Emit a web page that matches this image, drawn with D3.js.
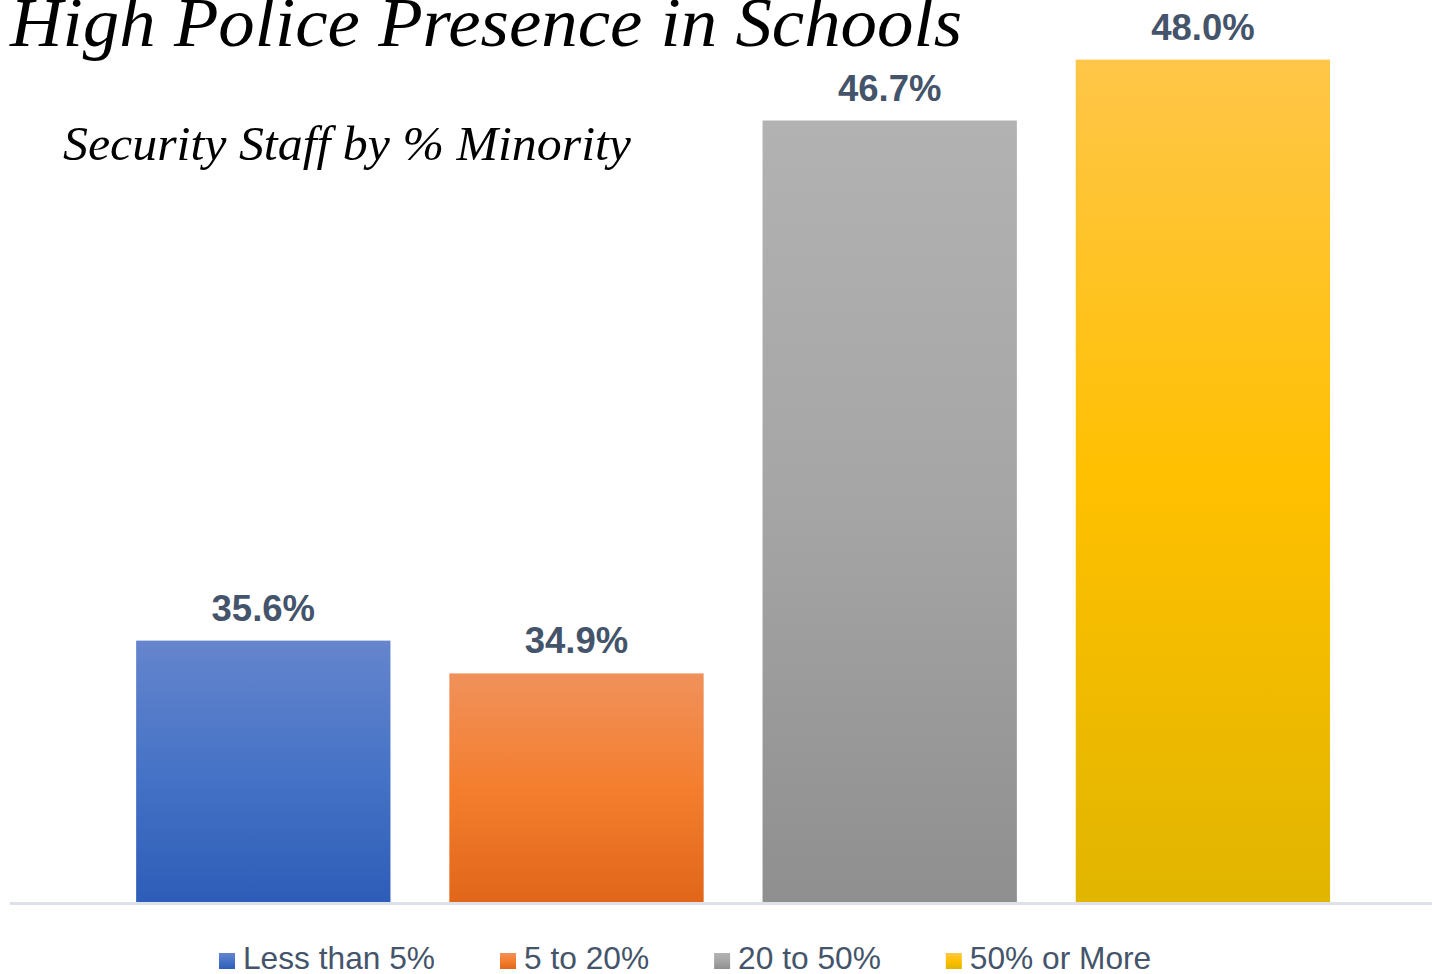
<!DOCTYPE html>
<html>
<head>
<meta charset="utf-8">
<script src="https://cdn.jsdelivr.net/npm/d3@7"></script>
<style>
  html, body { margin: 0; padding: 0; background: #ffffff; }
  svg { display: block; }
</style>
</head>
<body>
<svg id="chart" width="1432" height="974"></svg>
<script>
// Share of schools with high police presence, by share of minority students
const categories = ["Less than 5%", "5 to 20%", "20 to 50%", "50% or More"];
const values = [35.6, 34.9, 46.7, 48.0];
const valueLabels = ["35.6%", "34.9%", "46.7%", "48.0%"];
// gradient stops per series: top, middle, bottom
const gradientTop = ["#6585cd", "#f0915b", "#b2b2b2", "#ffc649"];
const gradientMid = ["#4673c6", "#f47e2e", "#a5a5a5", "#ffc000"];
const gradientBottom = ["#2d5db8", "#e1661a", "#8f8f8f", "#e1b500"];

const titleText = "High Police Presence in Schools";
const subtitleText = "Security Staff by % Minority";

const svg = d3.select("#chart");
const defs = svg.append("defs");

categories.forEach((c, i) => {
  const g = defs.append("linearGradient")
    .attr("id", "grad" + i)
    .attr("x1", 0).attr("y1", 0).attr("x2", 0).attr("y2", 1);
  g.append("stop").attr("offset", "0%").attr("stop-color", gradientTop[i]);
  g.append("stop").attr("offset", "50%").attr("stop-color", gradientMid[i]);
  g.append("stop").attr("offset", "100%").attr("stop-color", gradientBottom[i]);
});

const x = d3.scaleBand()
  .domain(categories)
  .range([106.7, 1359.5])
  .paddingInner(0.188)
  .paddingOuter(0.094);

const y = d3.scaleLinear()
  .domain([30, 50])
  .range([903, -34.1]);

// bars
svg.append("g").selectAll("rect")
  .data(categories)
  .join("rect")
  .attr("x", d => x(d))
  .attr("width", x.bandwidth())
  .attr("y", (d, i) => y(values[i]))
  .attr("height", (d, i) => y(30) - y(values[i]))
  .attr("fill", (d, i) => `url(#grad${i})`);

// category axis line
svg.append("line")
  .attr("x1", 10).attr("x2", 1432)
  .attr("y1", y(30) + 0.5).attr("y2", y(30) + 0.5)
  .attr("stroke", "#dde1ea")
  .attr("stroke-width", 3);

// value labels
svg.append("g").selectAll("text")
  .data(categories)
  .join("text")
  .attr("x", d => x(d) + x.bandwidth() / 2)
  .attr("y", (d, i) => y(values[i]) - 20)
  .attr("text-anchor", "middle")
  .attr("font-family", "'Liberation Sans', Arial, sans-serif")
  .attr("font-weight", "bold")
  .attr("font-size", 36.5)
  .attr("fill", "#44546a")
  .text((d, i) => valueLabels[i]);

// title and subtitle
svg.append("text")
  .attr("x", 10)
  .attr("y", 46)
  .attr("font-family", "'Liberation Serif', 'DejaVu Serif', serif")
  .attr("font-style", "italic")
  .attr("font-size", 70)
  .attr("fill", "#000000")
  .attr("textLength", 952)
  .attr("lengthAdjust", "spacingAndGlyphs")
  .text(titleText);

svg.append("text")
  .attr("x", 63)
  .attr("y", 160)
  .attr("font-family", "'Liberation Serif', 'DejaVu Serif', serif")
  .attr("font-style", "italic")
  .attr("font-size", 48)
  .attr("fill", "#000000")
  .attr("textLength", 568)
  .attr("lengthAdjust", "spacingAndGlyphs")
  .text(subtitleText);

// legend
const legend = svg.append("g");
const items = legend.selectAll("g")
  .data(categories)
  .join("g");
items.append("rect")
  .attr("width", 16).attr("height", 16)
  .attr("y", 953)
  .attr("fill", (d, i) => `url(#grad${i})`);
items.append("text")
  .attr("x", 24)
  .attr("y", 969)
  .attr("font-family", "'Liberation Sans', Arial, sans-serif")
  .attr("font-size", 31.7)
  .attr("fill", "#44546a")
  .text(d => d);

let cursor = 219;
items.each(function () {
  const g = d3.select(this);
  g.attr("transform", `translate(${cursor},0)`);
  const w = g.select("text").node().getComputedTextLength();
  cursor += 24 + w + 65;
});
</script>
</body>
</html>
